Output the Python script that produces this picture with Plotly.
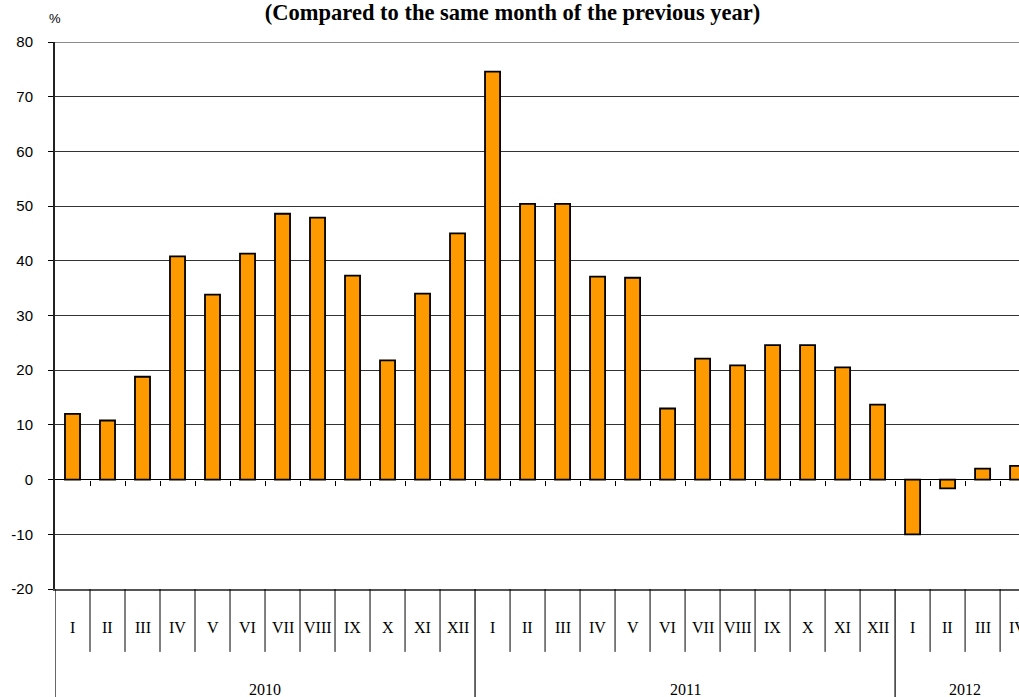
import plotly.graph_objects as go

months = ["I", "II", "III", "IV", "V", "VI", "VII", "VIII", "IX", "X", "XI", "XII",
          "I", "II", "III", "IV", "V", "VI", "VII", "VIII", "IX", "X", "XI", "XII",
          "I", "II", "III", "IV"]
years = ["2010", "2011", "2012"]
months_per_year = [12, 12, 4]
values = [12.0, 10.8, 18.8, 40.8, 33.8, 41.3, 48.6, 47.9, 37.3, 21.8, 34.0, 45.0,
          74.6, 50.4, 50.4, 37.1, 36.9, 13.0, 22.1, 20.9, 24.6, 24.6, 20.5, 13.7,
          -10.0, -1.6, 2.0, 2.5]
title_text = "(Compared to the same month of the previous year)"
y_ticks = list(range(-20, 90, 10))
y_tick_labels = [str(v) for v in y_ticks]

x_idx = list(range(len(values)))

fig = go.Figure()
fig.add_trace(go.Bar(
    x=x_idx, y=values, width=0.43,
    marker=dict(color="#FF9900", line=dict(color="#000000", width=1.8)),
    hoverinfo="y",
))

serif = "Liberation Serif"
sans = "Liberation Sans"

shapes = []
annotations = []

# month labels
for i, m in enumerate(months):
    annotations.append(dict(x=i, y=-0.0695, xref="x", yref="paper", text=m,
                            showarrow=False, yanchor="middle", xanchor="center",
                            font=dict(family=serif, size=16, color="#000")))
# group boundaries
bounds = []
s = 0
for n in months_per_year:
    bounds.append((s, s + n))
    s += n
year_edges = set(b[0] for b in bounds)
for i in range(1, len(months)):
    if i in year_edges:
        continue
    shapes.append(dict(type="line", xref="x", yref="paper", x0=i - 0.5, x1=i - 0.5,
                       y0=0, y1=-0.115, line=dict(color="#000", width=1)))
for (a, b), yr in zip(bounds, years):
    shapes.append(dict(type="line", xref="x", yref="paper", x0=a - 0.5, x1=a - 0.5,
                       y0=0, y1=-0.25, line=dict(color="#000", width=1.2)))
    annotations.append(dict(x=(a + b - 1) / 2, y=-0.183, xref="x", yref="paper",
                            text=yr, showarrow=False, yanchor="middle",
                            font=dict(family=serif, size=16, color="#000")))

# top border line
shapes.append(dict(type="line", xref="paper", yref="y", x0=0, x1=1, y0=80, y1=80,
                   line=dict(color="#8c8c8c", width=2)))

annotations.append(dict(x=0.0, y=1.0, xref="paper", yref="paper", text="%",
                        showarrow=False, yshift=33, xanchor="center",
                        font=dict(family=sans, size=13, color="#000")))

fig.update_layout(
    width=1019, height=697,
    margin=dict(l=55, r=0, t=42, b=108),
    paper_bgcolor="white", plot_bgcolor="white",
    showlegend=False,
    title=dict(text=title_text, x=0.503, xanchor="center", y=0.994, yanchor="top",
               font=dict(family=serif, size=22.5, color="#000", weight="bold")),
    xaxis=dict(range=[-0.5, 27.04], showticklabels=False, ticks="",
               showgrid=False, zeroline=False, showline=True,
               linecolor="#555", linewidth=2),
    xaxis2=dict(overlaying="x", anchor="free", position=0.2, matches="x",
                tickmode="array", tickvals=[i - 0.5 for i in range(1, len(values))],
                ticks="outside", ticklen=5, tickcolor="#000", tickwidth=1,
                showticklabels=False, showgrid=False, zeroline=False,
                showline=False),
    yaxis=dict(range=[-20, 80], tickmode="array", tickvals=y_ticks,
               ticktext=y_tick_labels,
               ticks="outside", ticklen=5, tickcolor="#000",
               ticklabelstandoff=12,
               showgrid=True, gridcolor="#333333", gridwidth=1,
               zeroline=True, zerolinecolor="#000", zerolinewidth=1.2,
               showline=True, linecolor="#222", linewidth=2,
               tickfont=dict(family=sans, size=15, color="#000")),
    shapes=shapes,
    annotations=annotations,
)
# dummy trace to activate the zero-line tick axis
fig.add_trace(go.Scatter(x=[0], y=[None], xaxis="x2", showlegend=False,
                         hoverinfo="skip"))

fig.write_html("out.html", config={"displayModeBar": False},
               post_script="document.body.style.margin='0';document.body.style.overflow='hidden';")
